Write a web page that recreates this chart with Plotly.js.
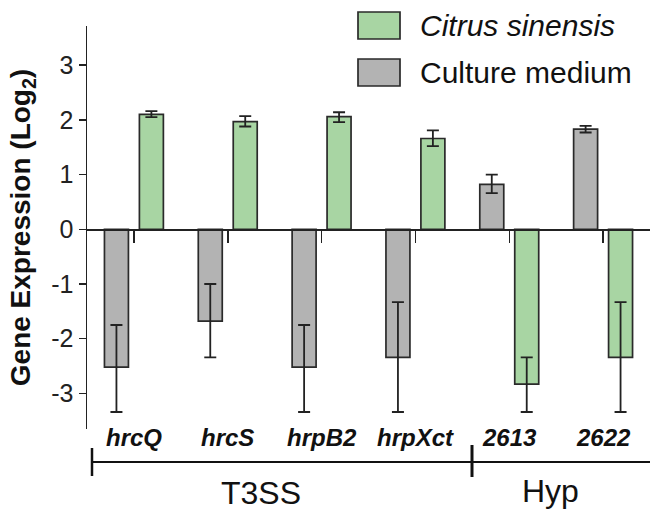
<!DOCTYPE html>
<html>
<head>
<meta charset="utf-8">
<script src="https://cdn.plot.ly/plotly-3.0.1.min.js"></script>
<style>html,body{margin:0;padding:0;background:#fff;}</style>
</head>
<body>
<div id="chart" style="width:650px;height:510px;"></div>
<script>
// ---- data ----
const genes = ["hrcQ", "hrcS", "hrpB2", "hrpXct", "2613", "2622"];
const cultureMedium = [-2.52, -1.68, -2.52, -2.34, 0.82, 1.83];
const cultureErrPlus = [0.77, 0.68, 0.77, 1.01, 0.18, 0.06];
const cultureErrMinus = [0.82, 0.66, 0.82, 1.00, 0.16, 0.06];
const citrusSinensis = [2.10, 1.97, 2.06, 1.66, -2.83, -2.34];
const citrusErrPlus = [0.06, 0.10, 0.08, 0.15, 0.49, 1.01];
const citrusErrMinus = [0.05, 0.09, 0.10, 0.14, 0.51, 1.00];
const yTickVals = [-3, -2, -1, 0, 1, 2, 3];
const yTickText = ["-3", "-2", "-1", "0", "1", "2", "3"];
const groupNames = ["T3SS", "Hyp"];
const seriesNames = ["Citrus sinensis", "Culture medium"];

// ---- layout helpers ----
const W = 650, H = 510;
const M = {l: 87, r: 0, t: 26, b: 81};
const pw = W - M.l - M.r, ph = H - M.t - M.b;
const X = px => (px - M.l) / pw;
const Y = py => (H - M.b - py) / ph;
const yRange = [-3.651, 3.717];
const zeroPos = (0 - yRange[0]) / (yRange[1] - yRange[0]);

const FONT = "Liberation Sans, Arial, Helvetica, sans-serif";
const GREEN = "#a8d5a3";
const GRAY = "#b3b3b3";
const EDGE = "#2a2a2a";

const errStyle = {color: "#222", thickness: 1.8, width: 6};

const traces = [
  {
    type: "bar", name: seriesNames[1], x: genes, y: cultureMedium,
    marker: {color: GRAY, line: {color: EDGE, width: 1.7}},
    error_y: Object.assign({type: "data", symmetric: false, array: cultureErrPlus, arrayminus: cultureErrMinus}, errStyle),
    showlegend: false
  },
  {
    type: "bar", name: seriesNames[0], x: genes, y: citrusSinensis,
    marker: {color: GREEN, line: {color: EDGE, width: 1.7}},
    error_y: Object.assign({type: "data", symmetric: false, array: citrusErrPlus, arrayminus: citrusErrMinus}, errStyle),
    showlegend: false
  }
];

// category labels placed at each category's index on the x axis
const annotations = genes.map((g, i) => ({
  x: i, xref: "x", y: Y(437), yref: "paper",
  text: "<b><i>" + g + "</i></b>", showarrow: false,
  xanchor: "center", yanchor: "middle",
  font: {family: FONT, size: 24, color: "#111"}
}));
annotations.push(
  {x: X(261), xref: "paper", y: Y(493), yref: "paper", text: groupNames[0], showarrow: false,
   xanchor: "center", yanchor: "middle", font: {family: FONT, size: 32, color: "#111"}},
  {x: X(550), xref: "paper", y: Y(491), yref: "paper", text: groupNames[1], showarrow: false,
   xanchor: "center", yanchor: "middle", font: {family: FONT, size: 32, color: "#111"}},
  {x: X(418), xref: "paper", y: Y(25.5), yref: "paper", text: "<i>" + seriesNames[0] + "</i>", showarrow: false,
   xanchor: "left", yanchor: "middle", font: {family: FONT, size: 30, color: "#111"}},
  {x: X(418), xref: "paper", y: Y(72.5), yref: "paper", text: seriesNames[1], showarrow: false,
   xanchor: "left", yanchor: "middle", font: {family: FONT, size: 30, color: "#111"}}
);

const shapes = [
  // legend swatches
  {type: "rect", xref: "paper", yref: "paper", x0: X(358), x1: X(400), y0: Y(12), y1: Y(39),
   fillcolor: GREEN, line: {color: EDGE, width: 1.7}},
  {type: "rect", xref: "paper", yref: "paper", x0: X(358), x1: X(400), y0: Y(59), y1: Y(86),
   fillcolor: GRAY, line: {color: EDGE, width: 1.7}},
  // group bracket
  {type: "line", xref: "paper", yref: "paper", x0: X(92), x1: X(650), y0: Y(462), y1: Y(462),
   line: {color: "#111", width: 2}},
  {type: "line", xref: "paper", yref: "paper", x0: X(92), x1: X(92), y0: Y(448), y1: Y(476),
   line: {color: "#111", width: 2.5}},
  {type: "line", xref: "paper", yref: "paper", x0: X(472), x1: X(472), y0: Y(445), y1: Y(477),
   line: {color: "#111", width: 3}}
];

const layout = {
  width: W, height: H,
  margin: M,
  paper_bgcolor: "#fff", plot_bgcolor: "rgba(0,0,0,0)",
  barmode: "group", bargap: 0.255, bargroupgap: 0.314,
  showlegend: false,
  font: {family: FONT, color: "#111"},
  xaxis: {
    type: "category", range: [-0.5, 5.5], anchor: "free", position: zeroPos,
    showline: true, linecolor: "#222", linewidth: 1.5,
    ticks: "outside", ticklen: 12, tickwidth: 1.5, tickcolor: "#222",
    showticklabels: false, showgrid: false, zeroline: false, fixedrange: true
  },
  yaxis: {
    range: yRange, showline: true, linecolor: "#222", linewidth: 1.5,
    ticks: "outside", ticklen: 7, tickwidth: 1.5, tickcolor: "#222",
    tickvals: yTickVals, ticktext: yTickText,
    tickfont: {family: FONT, size: 25, color: "#222"},
    showgrid: false, zeroline: false, fixedrange: true,
    title: {text: "<b>Gene Expression (Log<sub>2</sub>)</b>", standoff: 12,
            font: {family: FONT, size: 28, color: "#111"}}
  },
  annotations: annotations,
  shapes: shapes
};

Plotly.newPlot("chart", traces, layout, {displayModeBar: false, staticPlot: true});
</script>
</body>
</html>
